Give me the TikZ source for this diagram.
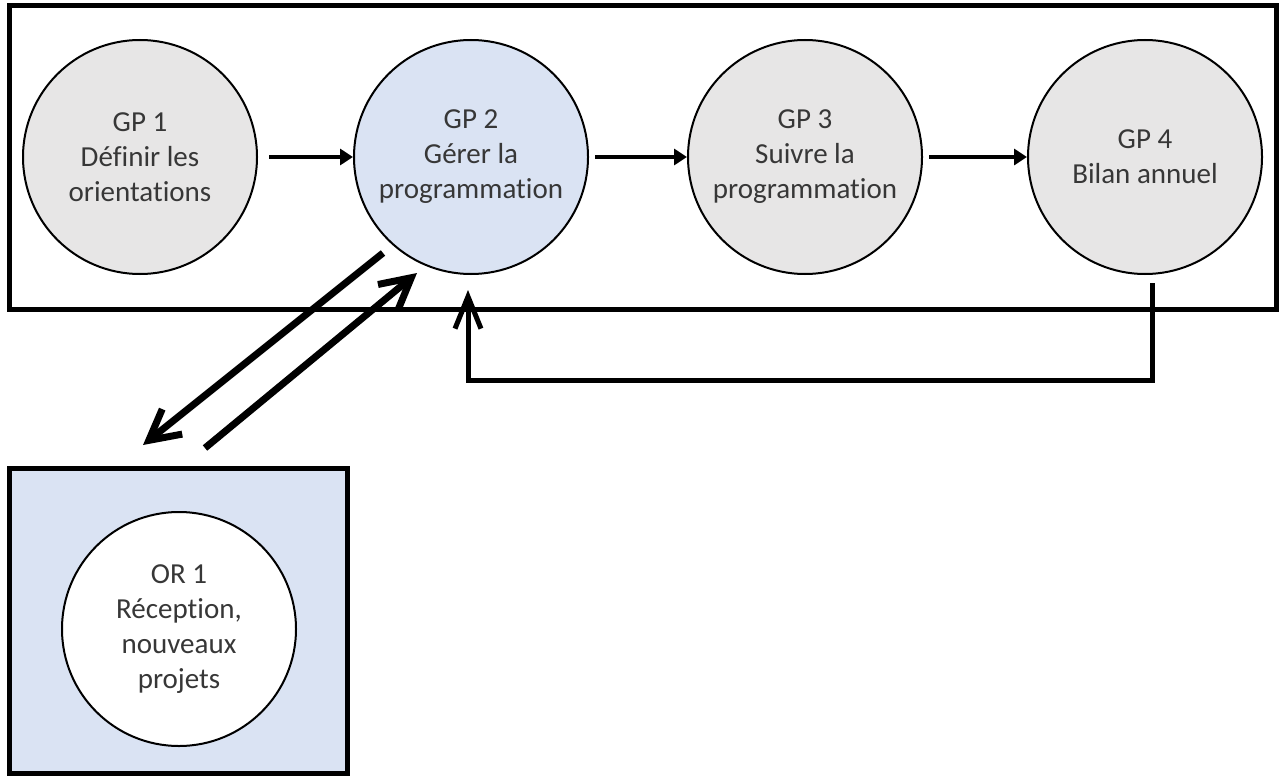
\documentclass[tikz,border=0pt]{standalone}
\usepackage{fontspec}
\setmainfont{Carlito}[Ligatures = NoCommon]
\usepackage{tikz}
\usetikzlibrary{positioning}
\usetikzlibrary{arrows.meta}
\usepackage{color}
\definecolor{gpGrey}{RGB}{231,230,230}
\definecolor{gpBlue}{RGB}{218,227,243}
\definecolor{gpText}{RGB}{55,55,55}

\begin{document}
\begin{tikzpicture}
[x = 1pt, y = -1pt,
  phase/.style = { draw, circle, line width = 2pt, minimum size = 234pt, inner sep = 0pt,
                   align = center, text = gpText, fill = gpGrey,
                   font = \fontsize{29}{35}\selectfont },
  frame/.style = { draw, line width = 5pt },
  flow/.style  = { line width = 4pt, shorten <= 6pt, -{Triangle[length = 13pt, width = 16pt]} },
  back/.style  = { line width = 5pt, -{Straight Barb[length = 32pt, width = 26pt]} },
  link/.style  = { line width = 7pt, -{Straight Barb[length = 30pt, width = 32pt]} }
]

\useasboundingbox (0,0) rectangle (1282,776);

% Frames:
\draw[frame] (9.5,5.5) rectangle (1276,309);
\draw[frame, fill = gpBlue] (9.5,468) rectangle (347.5,773.5);

% Phases GP 1 to GP 4:
\node[phase] (gp1) at (140,157)  {GP 1\\Définir les\\orientations};
\node[phase, fill = gpBlue] (gp2) at (471,157)  {GP 2\\Gérer la\\programmation};
\node[phase] (gp3) at (805,157)  {GP 3\\Suivre la\\programmation};
\node[phase] (gp4) at (1145,157) {GP 4\\Bilan annuel};

% Reception:
\node[phase, fill = white] (or1) at (179,629) {OR 1\\Réception,\\nouveaux\\projets};

% Flow between the phases:
\draw[flow, shorten <= 11pt] (gp1) -- (gp2);
\draw[flow] (gp2) -- (gp3);
\draw[flow] (gp3) -- (gp4);

% Feedback from the annual review:
\coordinate (fb) at (468,380);
\draw[back] ([xshift = 7pt, yshift = -8pt]gp4.south) |- (fb)
            -- ([xshift = -3pt, yshift = -15pt]gp2.south);

% Exchange with OR 1:
\coordinate (orIn)  at (143,445);
\coordinate (orOut) at (205,448);
\draw[link] ([shift = {(-88,96)}]gp2.center) -- (orIn);
\draw[link] (orOut) -- ([shift = {(-54,116)}]gp2.center);
\end{tikzpicture}
\end{document}
